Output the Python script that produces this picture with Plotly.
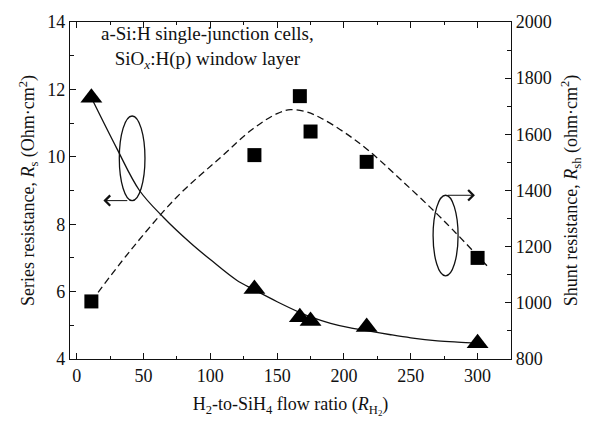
import plotly.graph_objects as go

# Measured cells: H2-to-SiH4 flow ratio
ratio = [11, 133, 167, 175, 217, 300]
series_res = [11.75, 6.08, 5.24, 5.13, 4.95, 4.47]      # Ohm·cm^2
shunt_res = [1005, 1526, 1736, 1610, 1502, 1160]        # ohm·cm^2

# Guide-to-the-eye trend lines
rs_trend_x = [11, 30, 47, 65, 85, 100, 120, 133, 150, 167, 175, 190, 204, 217, 235, 250, 270, 285, 300]
rs_trend_y = [11.75, 10.25, 9.0, 8.2, 7.45, 6.95, 6.33, 6.05, 5.7, 5.38, 5.25, 5.06, 4.93, 4.84, 4.72, 4.63, 4.54, 4.5, 4.47]
rsh_trend_x = [11, 40, 75, 107, 132, 150, 160, 172, 182, 200, 217, 242, 274, 308]
rsh_trend_y = [1005, 1185, 1377, 1515, 1620, 1674, 1688, 1680, 1660, 1608, 1548, 1441, 1296, 1127]

SERIF = "Liberation Serif"
INK = "#111111"

fig = go.Figure()
fig.add_trace(go.Scatter(x=rs_trend_x, y=rs_trend_y, mode="lines", line=dict(color=INK, width=1.3, shape="spline"),
                         showlegend=False, hoverinfo="skip"))
fig.add_trace(go.Scatter(x=rsh_trend_x, y=rsh_trend_y, mode="lines", yaxis="y2",
                         line=dict(color=INK, width=1.3, dash="7px,4px", shape="spline"),
                         showlegend=False, hoverinfo="skip"))
fig.add_trace(go.Scatter(x=ratio, y=series_res, mode="markers", name="Rs",
                         marker=dict(symbol="triangle-up", size=19, color="black"), showlegend=False))
fig.add_trace(go.Scatter(x=ratio, y=shunt_res, mode="markers", name="Rsh", yaxis="y2",
                         marker=dict(symbol="square", size=14, color="black"), showlegend=False))

# Ellipses marking which curve belongs to which axis
fig.add_shape(type="circle", xref="x", yref="y", x0=31.9, x1=51.1, y0=8.7, y1=11.21,
              line=dict(color=INK, width=1.3))
fig.add_shape(type="circle", xref="x", yref="y2", x0=266.7, x1=285.4, y0=1096, y1=1383,
              line=dict(color=INK, width=1.3))
fig.add_annotation(x=20, y=8.7, ax=39, ay=8.7, xref="x", yref="y", axref="x", ayref="y",
                   text="", showarrow=True, arrowhead=4, arrowsize=2.0, arrowwidth=1.0, arrowcolor=INK)
fig.add_annotation(x=298, y=1383, ax=276.5, ay=1383, xref="x", yref="y2", axref="x", ayref="y2",
                   text="", showarrow=True, arrowhead=4, arrowsize=2.0, arrowwidth=1.0, arrowcolor=INK)

fig.add_annotation(x=0.312, y=0.925, xref="paper", yref="paper", xanchor="center", yanchor="middle",
                   showarrow=False, align="center",
                   text="a-Si:H single-junction cells,<br>SiO<sub><i>x</i></sub>:H(p) window layer",
                   font=dict(family=SERIF, size=19, color=INK))

axis_common = dict(showline=True, linecolor=INK, linewidth=1.2, ticks="inside", tickcolor=INK,
                   ticklen=6, tickwidth=1.1, showgrid=False, zeroline=False,
                   tickfont=dict(family=SERIF, size=18, color=INK))

fig.update_layout(
    width=594, height=423,
    margin=dict(l=70, r=83, t=15, b=64),
    paper_bgcolor="white", plot_bgcolor="white",
    xaxis=dict(range=[-5, 325], tickvals=[0, 50, 100, 150, 200, 250, 300], mirror="ticks",
               minor=dict(ticks="inside", ticklen=3, dtick=25, tick0=0, tickcolor=INK),
               title=dict(text="H<sub>2</sub>-to-SiH<sub>4</sub> flow ratio (<i>R</i><sub>H<sub>2</sub></sub>)",
                          font=dict(family=SERIF, size=18, color=INK), standoff=12),
               **axis_common),
    yaxis=dict(range=[4, 14], tickvals=[4, 6, 8, 10, 12, 14],
               minor=dict(ticks="inside", ticklen=4, dtick=1, tick0=0, tickcolor=INK),
               title=dict(text="Series resistance, <i>R</i><sub>s</sub> (Ohm·cm<sup>2</sup>)",
                          font=dict(family=SERIF, size=18, color=INK), standoff=7),
               **axis_common),
    yaxis2=dict(range=[800, 2000], tickvals=[800, 1000, 1200, 1400, 1600, 1800, 2000],
                overlaying="y", side="right",
                minor=dict(ticks="inside", ticklen=4, dtick=100, tick0=0, tickcolor=INK),
                title=dict(text="Shunt resistance, <i>R</i><sub>sh</sub> (ohm·cm<sup>2</sup>)",
                           font=dict(family=SERIF, size=18, color=INK), standoff=13),
                **axis_common),
)

fig.write_html("out.html")
